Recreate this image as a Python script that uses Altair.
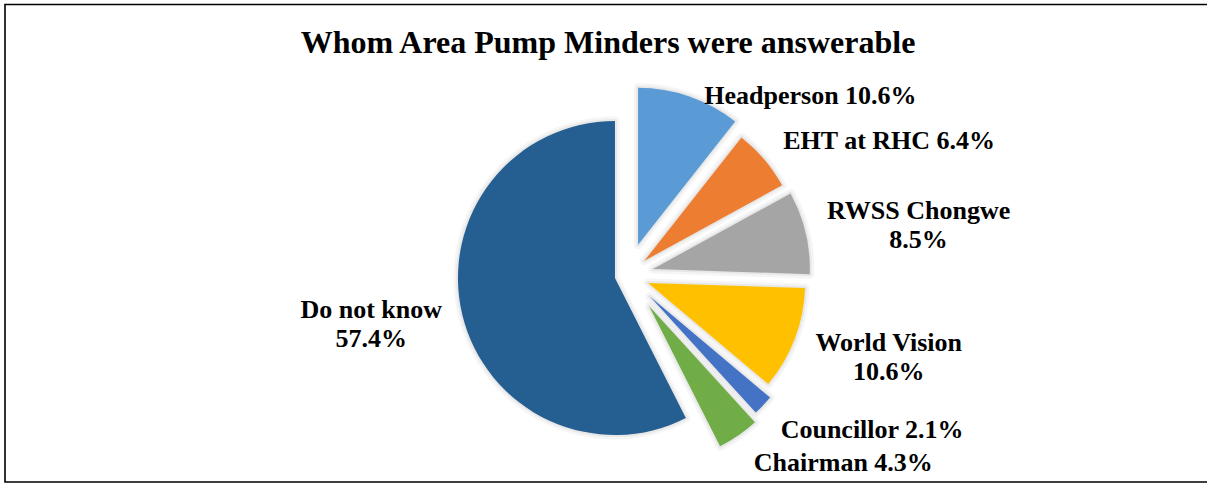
import altair as alt
import pandas as pd

# ---- data ----
categories = ["Headperson", "EHT at RHC", "RWSS Chongwe", "World Vision",
              "Councillor", "Chairman", "Do not know"]
percent = [10.6, 6.4, 8.5, 10.6, 2.1, 4.3, 57.4]
colors = ["#5B9BD5", "#ED7D31", "#A5A5A5", "#FFC000", "#4472C4", "#70AD47", "#255E91"]
title_text = "Whom Area Pump Minders were answerable"

# ---- layout / style (not data) ----
explode = [32, 22, 26, 22, 31, 38, 13]          # px each slice is pulled out
label_break = [" ", " ", "\n", "\n", " ", " ", "\n"]
label_dx = [121, 125, 113, 94, 109, 105, -91]
label_dy = [8, -10, -14, 12, 33, 35, 4]
CX, CY, R = 627.6, 275.0, 157
FONT = "Liberation Serif"

df = pd.DataFrame({
    "order": list(range(len(categories))),
    "category": categories,
    "value": percent,
    "explode": explode,
    "sep": label_break,
    "ldx": label_dx,
    "ldy": label_dy,
})

base = alt.Chart(df).transform_window(
    cum="sum(value)", sort=[alt.SortField("order")], frame=[None, 0]
).transform_joinaggregate(
    total="sum(value)"
).transform_calculate(
    t1="datum.cum / datum.total",
    t0="(datum.cum - datum.value) / datum.total",
).transform_calculate(
    mid="PI * (datum.t0 + datum.t1)",
).transform_calculate(
    px=f"{CX} + datum.explode * sin(datum.mid)",
    py=f"{CY} - datum.explode * cos(datum.mid)",
    lx=f"{CX} + (datum.explode + {R}) * sin(datum.mid) + datum.ldx",
    ly=f"{CY} - (datum.explode + {R}) * cos(datum.mid) + datum.ldy",
    label="datum.category + datum.sep + format(datum.value, '.1f') + '%'",
)

theta = alt.Theta("t0:Q", scale=alt.Scale(domain=[0, 1], range=[0, 6.283185307179586]), stack=None)
theta2 = alt.Theta2("t1:Q")
xpos = alt.X("px:Q", scale=None, axis=None)
ypos = alt.Y("py:Q", scale=None, axis=None)
color = alt.Color("category:N", scale=alt.Scale(domain=categories, range=colors), legend=None)

shadow1 = base.mark_arc(outerRadius=R, fill="transparent", stroke="#000000",
                        strokeOpacity=0.04, strokeWidth=9, strokeJoin="round").encode(
    theta=theta, theta2=theta2, x=xpos, y=ypos)
shadow2 = base.mark_arc(outerRadius=R, fill="transparent", stroke="#000000",
                        strokeOpacity=0.05, strokeWidth=4, strokeJoin="round").encode(
    theta=theta, theta2=theta2, x=xpos, y=ypos)

pie = base.mark_arc(outerRadius=R).encode(
    theta=theta, theta2=theta2, x=xpos, y=ypos, color=color)

labels = base.mark_text(font=FONT, fontSize=26, fontWeight="bold", color="#000000",
                        align="center", baseline="alphabetic", lineBreak="\n",
                        lineHeight=29).encode(
    x=alt.X("lx:Q", scale=None, axis=None),
    y=alt.Y("ly:Q", scale=None, axis=None),
    text="label:N",
)

title = alt.Chart(pd.DataFrame({"t": [title_text]})).mark_text(
    font=FONT, fontSize=32, fontWeight="bold", color="#000000",
    align="center", baseline="alphabetic").encode(
    x=alt.value(608), y=alt.value(53), text="t:N")

border = alt.Chart(pd.DataFrame({"a": [0]})).mark_rect(
    fill="transparent", stroke="#000000", strokeWidth=1.6).encode(
    x=alt.value(5), x2=alt.value(1215), y=alt.value(4.5), y2=alt.value(482))

chart = alt.layer(border, shadow1, shadow2, pie, labels, title).properties(
    width=1207, height=484, padding=0, autosize="none", background="white"
).configure_view(stroke=None)

chart.save("out.html", embed_options={"renderer": "svg", "actions": False})
